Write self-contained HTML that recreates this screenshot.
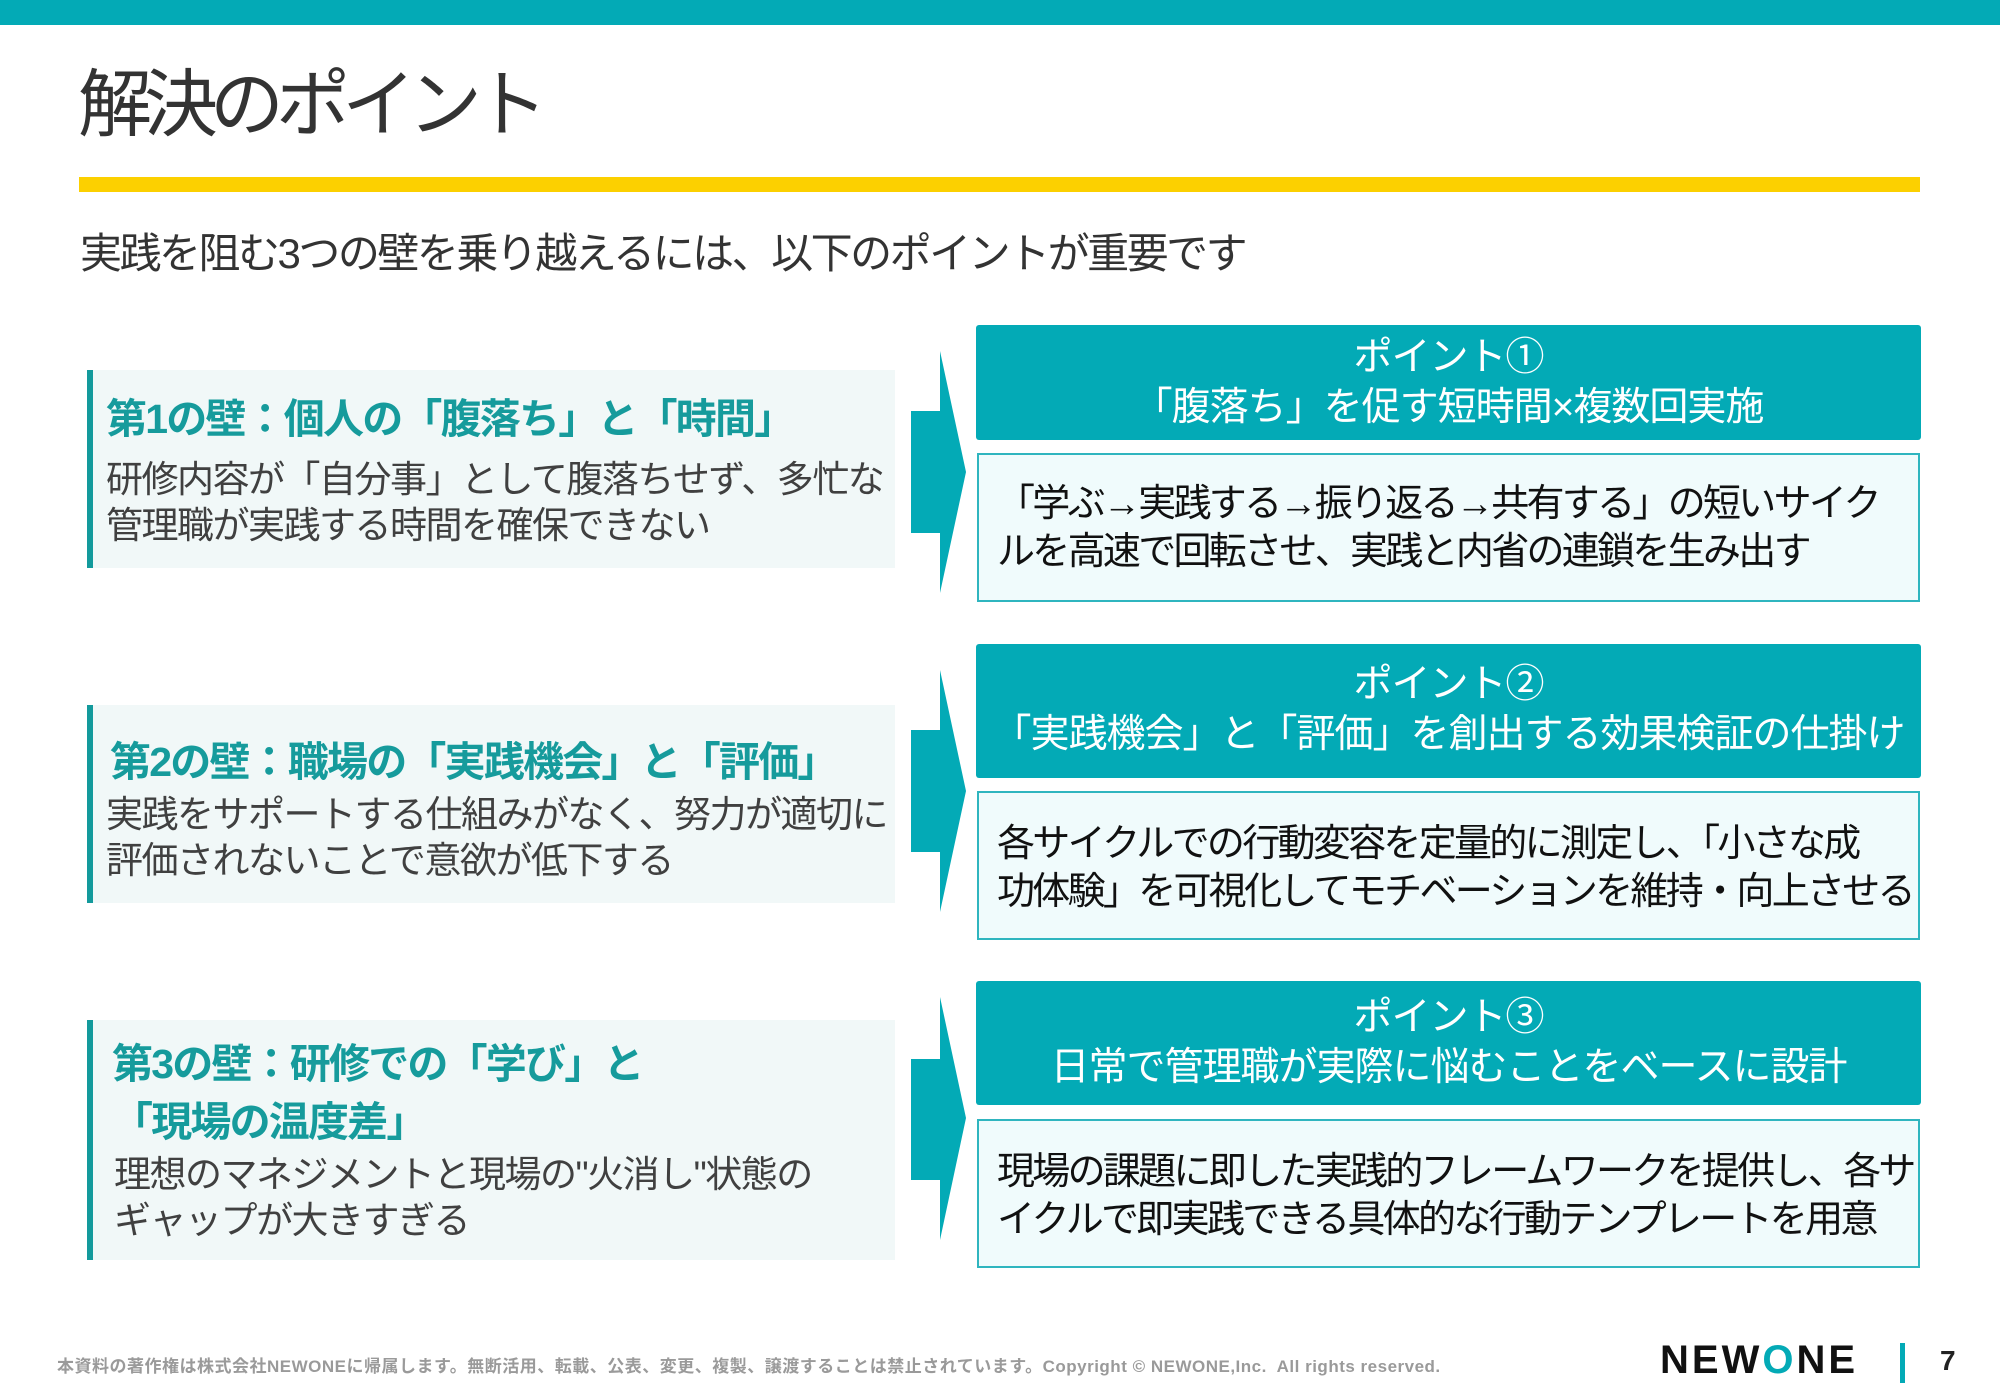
<!DOCTYPE html>
<html><head><meta charset="utf-8"><style>
*{margin:0;padding:0;box-sizing:border-box}
body{width:2000px;height:1385px;position:relative;background:#fff;font-family:"Liberation Sans","Noto Sans CJK JP",sans-serif;overflow:hidden;color:#333}
.a{position:absolute}
.lb{position:absolute;left:87px;width:808px;background:#f1f8f8;border-left:6px solid #139a9c}
.lt{position:absolute;color:#169b9c;font-weight:bold;font-size:41px;white-space:nowrap;letter-spacing:-1.8px}
.ld{position:absolute;color:#404040;font-size:37px;line-height:46px;white-space:nowrap;letter-spacing:-1.5px}
.hd{position:absolute;left:976px;width:945px;background:#03aab6;color:#fff;text-align:center;font-size:39px;line-height:50px;border-radius:3px;letter-spacing:-1px}
.bd{position:absolute;left:977px;width:943px;background:#f0fbfc;border:2px solid #2fb5bf;color:#111;font-size:38px;line-height:48px;padding-left:18px;white-space:nowrap;letter-spacing:-2.7px}
</style></head><body>
<div class="a" style="left:0;top:0;width:2000px;height:25px;background:#03aab6"></div>
<div class="a" style="left:78px;top:60px;font-size:74px;line-height:90px;color:#333;letter-spacing:-8px">解決のポイント</div>
<div class="a" style="left:79px;top:177px;width:1841px;height:15px;background:#fcd000"></div>
<div class="a" style="left:80px;top:226px;font-size:42px;line-height:56px;color:#333;letter-spacing:-2.5px">実践を阻む3つの壁を乗り越えるには、以下のポイントが重要です</div>

<div class="lb" style="top:370px;height:198px"></div>
<div class="lt" style="left:106px;top:385px">第1の壁：個人の「腹落ち」と「時間」</div>
<div class="ld" style="left:106px;top:457px">研修内容が「自分事」として腹落ちせず、多忙な<br>管理職が実践する時間を確保できない</div>

<div class="lb" style="top:705px;height:198px"></div>
<div class="lt" style="left:110px;top:728px">第2の壁：職場の「実践機会」と「評価」</div>
<div class="ld" style="left:106px;top:792px">実践をサポートする仕組みがなく、努力が適切に<br>評価されないことで意欲が低下する</div>

<div class="lb" style="top:1020px;height:240px"></div>
<div class="lt" style="left:112px;top:1035px;line-height:58px">第3の壁：研修での「学び」と<br>「現場の温度差」</div>
<div class="ld" style="left:114px;top:1152px">理想のマネジメントと現場の"火消し"状態の<br>ギャップが大きすぎる</div>

<svg class="a" style="left:0;top:0" width="2000" height="1385">
<g fill="#03aab6">
<polygon points="911,411 940,411 940,351 966,472 940,593 940,533 911,533"/>
<polygon points="911,730 940,730 940,670 966,791 940,912 940,852 911,852"/>
<polygon points="911,1059 940,1059 940,997 966,1118 940,1240 940,1180 911,1180"/>
</g></svg>

<div class="hd" style="top:325px;height:115px;padding-top:8px">ポイント①<br>「腹落ち」を促す短時間×複数回実施</div>
<div class="bd" style="top:453px;height:149px;padding-top:25px">「学ぶ→実践する→振り返る→共有する」の短いサイク<br>ルを高速で回転させ、実践と内省の連鎖を生み出す</div>

<div class="hd" style="top:644px;height:134px;padding-top:16px">ポイント②<br>「実践機会」と「評価」を創出する効果検証の仕掛け</div>
<div class="bd" style="top:791px;height:149px;padding-top:27px">各サイクルでの行動変容を定量的に測定し、「小さな成<br>功体験」を可視化してモチベーションを維持・向上させる</div>

<div class="hd" style="top:981px;height:124px;padding-top:12px">ポイント③<br>日常で管理職が実際に悩むことをベースに設計</div>
<div class="bd" style="top:1119px;height:149px;padding-top:27px">現場の課題に即した実践的フレームワークを提供し、各サ<br>イクルで即実践できる具体的な行動テンプレートを用意</div>

<div class="a" style="left:57px;top:1352px;font-size:17px;font-weight:bold;color:#9a9a9a;white-space:nowrap;letter-spacing:0.5px">本資料の著作権は株式会社NEWONEに帰属します。無断活用、転載、公表、変更、複製、譲渡することは禁止されています。Copyright © NEWONE,Inc.&nbsp; All rights reserved.</div>
<div class="a" style="left:1660px;top:1338px;font-size:40px;font-weight:bold;color:#111;letter-spacing:3px">NEW<span style="color:#03aab6">O</span>NE</div>
<div class="a" style="left:1900px;top:1343px;width:5px;height:40px;background:#03aab6"></div>
<div class="a" style="left:1940px;top:1345px;font-size:28px;font-weight:bold;color:#222">7</div>
</body></html>
